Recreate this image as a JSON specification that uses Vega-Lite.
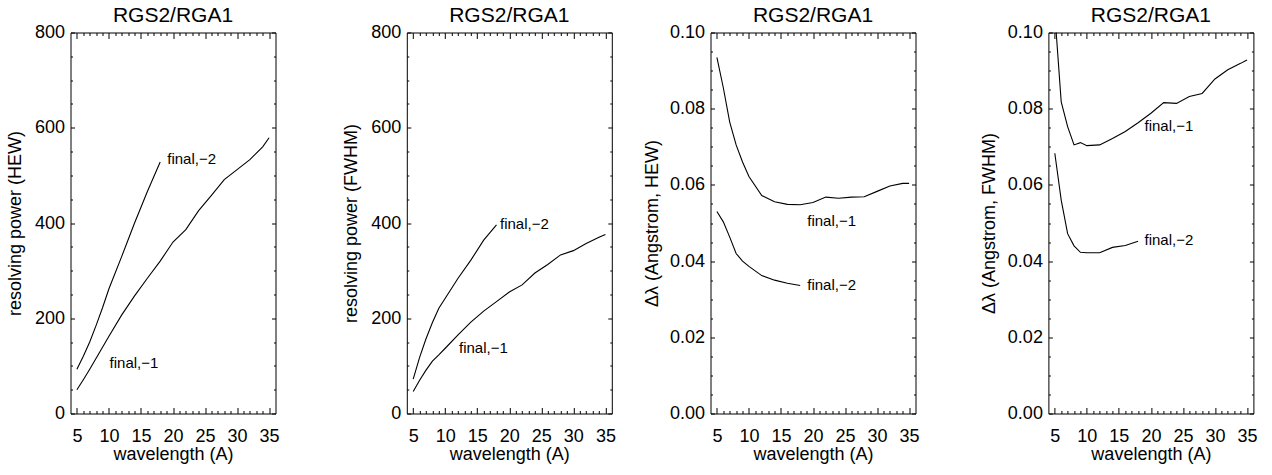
{
 "$schema": "https://vega.github.io/schema/vega-lite/v6.json",
 "background": "white",
 "padding": {"left": 5.5, "top": 3.5, "right": 5, "bottom": 5},
 "autosize": {"type": "pad"},
 "config": {
   "view": {"stroke": "black", "strokeWidth": 1},
   "axis": {"grid": false, "domain": false, "tickColor": "black", "tickWidth": 1, "labelFont": "Liberation Sans", "labelFontSize": 18, "labelColor": "black", "labelOverlap": false, "labelFlush": false, "labelBound": false, "titleFont": "Liberation Sans", "titleFontSize": 18, "titleFontWeight": "normal", "titleColor": "black"},
   "title": {"font": "Liberation Sans", "fontSize": 21, "fontWeight": "normal", "color": "black", "baseline": "alphabetic", "offset": -2, "anchor": "middle"}
 },
 "datasets": {
  "p1": [
   {"wl":5,"v":50,"s":"final,-1"},{"wl":6,"v":71,"s":"final,-1"},{"wl":7,"v":93,"s":"final,-1"},{"wl":8,"v":116,"s":"final,-1"},{"wl":9,"v":139,"s":"final,-1"},{"wl":10,"v":162,"s":"final,-1"},{"wl":12,"v":207,"s":"final,-1"},{"wl":14,"v":247,"s":"final,-1"},{"wl":16,"v":284,"s":"final,-1"},{"wl":18,"v":320,"s":"final,-1"},{"wl":20,"v":360,"s":"final,-1"},{"wl":22,"v":386,"s":"final,-1"},{"wl":24,"v":426,"s":"final,-1"},{"wl":26,"v":458,"s":"final,-1"},{"wl":28,"v":491,"s":"final,-1"},{"wl":30,"v":512,"s":"final,-1"},{"wl":32,"v":533,"s":"final,-1"},{"wl":34,"v":560,"s":"final,-1"},{"wl":35,"v":579,"s":"final,-1"},
   {"wl":5,"v":93,"s":"final,-2"},{"wl":6,"v":120,"s":"final,-2"},{"wl":7,"v":150,"s":"final,-2"},{"wl":8,"v":185,"s":"final,-2"},{"wl":9,"v":222,"s":"final,-2"},{"wl":10,"v":262,"s":"final,-2"},{"wl":12,"v":330,"s":"final,-2"},{"wl":14,"v":400,"s":"final,-2"},{"wl":16,"v":466,"s":"final,-2"},{"wl":18,"v":528,"s":"final,-2"}
  ],
  "p2": [
   {"wl":5,"v":46,"s":"final,-1"},{"wl":6,"v":70,"s":"final,-1"},{"wl":7,"v":91,"s":"final,-1"},{"wl":8,"v":110,"s":"final,-1"},{"wl":9,"v":123,"s":"final,-1"},{"wl":10,"v":137,"s":"final,-1"},{"wl":12,"v":165,"s":"final,-1"},{"wl":14,"v":192,"s":"final,-1"},{"wl":16,"v":215,"s":"final,-1"},{"wl":18,"v":235,"s":"final,-1"},{"wl":20,"v":255,"s":"final,-1"},{"wl":22,"v":270,"s":"final,-1"},{"wl":24,"v":295,"s":"final,-1"},{"wl":26,"v":313,"s":"final,-1"},{"wl":28,"v":333,"s":"final,-1"},{"wl":30,"v":342,"s":"final,-1"},{"wl":32,"v":357,"s":"final,-1"},{"wl":34,"v":370,"s":"final,-1"},{"wl":35,"v":376,"s":"final,-1"},
   {"wl":5,"v":72,"s":"final,-2"},{"wl":6,"v":118,"s":"final,-2"},{"wl":7,"v":157,"s":"final,-2"},{"wl":8,"v":191,"s":"final,-2"},{"wl":9,"v":221,"s":"final,-2"},{"wl":10,"v":242,"s":"final,-2"},{"wl":12,"v":284,"s":"final,-2"},{"wl":14,"v":322,"s":"final,-2"},{"wl":16,"v":364,"s":"final,-2"},{"wl":18,"v":396,"s":"final,-2"}
  ],
  "p3": [
   {"wl":5,"v":0.0935,"s":"final,-1"},{"wl":6,"v":0.0855,"s":"final,-1"},{"wl":7,"v":0.0765,"s":"final,-1"},{"wl":8,"v":0.0705,"s":"final,-1"},{"wl":9,"v":0.066,"s":"final,-1"},{"wl":10,"v":0.0622,"s":"final,-1"},{"wl":12,"v":0.0572,"s":"final,-1"},{"wl":14,"v":0.0556,"s":"final,-1"},{"wl":16,"v":0.0549,"s":"final,-1"},{"wl":18,"v":0.0548,"s":"final,-1"},{"wl":20,"v":0.0554,"s":"final,-1"},{"wl":22,"v":0.0568,"s":"final,-1"},{"wl":24,"v":0.0565,"s":"final,-1"},{"wl":26,"v":0.0568,"s":"final,-1"},{"wl":28,"v":0.0569,"s":"final,-1"},{"wl":30,"v":0.0583,"s":"final,-1"},{"wl":32,"v":0.0597,"s":"final,-1"},{"wl":34,"v":0.0604,"s":"final,-1"},{"wl":35,"v":0.0604,"s":"final,-1"},
   {"wl":5,"v":0.053,"s":"final,-2"},{"wl":6,"v":0.0503,"s":"final,-2"},{"wl":7,"v":0.0463,"s":"final,-2"},{"wl":8,"v":0.042,"s":"final,-2"},{"wl":9,"v":0.04,"s":"final,-2"},{"wl":10,"v":0.0386,"s":"final,-2"},{"wl":12,"v":0.0362,"s":"final,-2"},{"wl":14,"v":0.035,"s":"final,-2"},{"wl":16,"v":0.0342,"s":"final,-2"},{"wl":18,"v":0.0336,"s":"final,-2"}
  ],
  "p4": [
   {"wl":5,"v":0.105,"s":"final,-1"},{"wl":6,"v":0.0818,"s":"final,-1"},{"wl":7,"v":0.0753,"s":"final,-1"},{"wl":8,"v":0.0705,"s":"final,-1"},{"wl":9,"v":0.0711,"s":"final,-1"},{"wl":10,"v":0.0703,"s":"final,-1"},{"wl":12,"v":0.0705,"s":"final,-1"},{"wl":14,"v":0.0722,"s":"final,-1"},{"wl":16,"v":0.074,"s":"final,-1"},{"wl":18,"v":0.0763,"s":"final,-1"},{"wl":20,"v":0.0788,"s":"final,-1"},{"wl":22,"v":0.0816,"s":"final,-1"},{"wl":24,"v":0.0814,"s":"final,-1"},{"wl":26,"v":0.0832,"s":"final,-1"},{"wl":28,"v":0.084,"s":"final,-1"},{"wl":30,"v":0.0878,"s":"final,-1"},{"wl":32,"v":0.0902,"s":"final,-1"},{"wl":34,"v":0.0919,"s":"final,-1"},{"wl":35,"v":0.0928,"s":"final,-1"},
   {"wl":5,"v":0.0683,"s":"final,-2"},{"wl":6,"v":0.056,"s":"final,-2"},{"wl":7,"v":0.0472,"s":"final,-2"},{"wl":8,"v":0.044,"s":"final,-2"},{"wl":9,"v":0.0423,"s":"final,-2"},{"wl":10,"v":0.0422,"s":"final,-2"},{"wl":12,"v":0.0422,"s":"final,-2"},{"wl":14,"v":0.0436,"s":"final,-2"},{"wl":16,"v":0.0441,"s":"final,-2"},{"wl":18,"v":0.0452,"s":"final,-2"}
  ],
  "t1": [{"wl":19.1,"v":534,"t":"final,−2"},{"wl":10.1,"v":107,"t":"final,−1"}],
  "t2": [{"wl":18.55,"v":398,"t":"final,−2"},{"wl":12.15,"v":137,"t":"final,−1"}],
  "t3": [{"wl":19.1,"v":0.0505,"t":"final,−1"},{"wl":19.1,"v":0.0336,"t":"final,−2"}],
  "t4": [{"wl":19.0,"v":0.0755,"t":"final,−1"},{"wl":19.0,"v":0.0456,"t":"final,−2"}]
 },
 "spacing": 26,
 "hconcat": [
  {"spacing": 61.3, "hconcat": [
   {"width": 205, "height": 381, "title": "RGS2/RGA1",
    "layer": [
     {"data": {"name": "p1"}, "mark": {"type": "line", "color": "black", "strokeWidth": 1.1, "clip": true},
      "encoding": {
       "x": {"field": "wl", "type": "quantitative", "scale": {"domain": [4, 36], "nice": false, "zero": false},
             "axis": {"orient": "bottom", "values": [5,6,7,8,9,10,11,12,13,14,15,16,17,18,19,20,21,22,23,24,25,26,27,28,29,30,31,32,33,34,35], "tickSize": {"condition": {"test": "datum.value % 5 === 0", "value": -6}, "value": -3}, "labelExpr": "datum.value % 5 === 0 ? datum.label : ''", "labelPadding": 20.3, "title": "wavelength (A)", "titleBaseline": "alphabetic", "titleX": 102.5, "titleY": 46}},
       "y": {"field": "v", "type": "quantitative", "scale": {"domain": [0, 800], "nice": false, "zero": false},
             "axis": {"orient": "left", "values": [0,50,100,150,200,250,300,350,400,450,500,550,600,650,700,750,800], "tickSize": {"condition": {"test": "datum.value % 200 === 0", "value": -4}, "value": -2}, "labelExpr": "datum.value % 200 === 0 ? datum.label : ''", "labelPadding": 10, "title": "resolving power (HEW)", "titleBaseline": "alphabetic", "titleAngle": -90, "titleAlign": "center", "titleX": -50, "titleY": 190.5}},
       "detail": {"field": "s", "type": "nominal"}
      }},
     {"data": {"name": "t1"}, "mark": {"type": "text", "align": "left", "baseline": "middle", "font": "Liberation Sans", "fontSize": 15, "color": "black"},
      "encoding": {
       "x": {"field": "wl", "type": "quantitative", "scale": {"domain": [4, 36], "nice": false, "zero": false},
             "axis": {"orient": "top", "values": [5,6,7,8,9,10,11,12,13,14,15,16,17,18,19,20,21,22,23,24,25,26,27,28,29,30,31,32,33,34,35], "tickSize": {"condition": {"test": "datum.value % 5 === 0", "value": -6}, "value": -3}, "labels": false, "title": null}},
       "y": {"field": "v", "type": "quantitative", "scale": {"domain": [0, 800], "nice": false, "zero": false},
             "axis": {"orient": "right", "values": [0,50,100,150,200,250,300,350,400,450,500,550,600,650,700,750,800], "tickSize": {"condition": {"test": "datum.value % 200 === 0", "value": -4}, "value": -2}, "labels": false, "title": null}},
       "text": {"field": "t", "type": "nominal"}
      }}
    ],
    "resolve": {"scale": {"x": "independent", "y": "independent"}, "axis": {"x": "independent", "y": "independent"}}
   },
   {"width": 205, "height": 381, "title": "RGS2/RGA1",
    "layer": [
     {"data": {"name": "p2"}, "mark": {"type": "line", "color": "black", "strokeWidth": 1.1, "clip": true},
      "encoding": {
       "x": {"field": "wl", "type": "quantitative", "scale": {"domain": [4, 36], "nice": false, "zero": false},
             "axis": {"orient": "bottom", "values": [5,6,7,8,9,10,11,12,13,14,15,16,17,18,19,20,21,22,23,24,25,26,27,28,29,30,31,32,33,34,35], "tickSize": {"condition": {"test": "datum.value % 5 === 0", "value": -6}, "value": -3}, "labelExpr": "datum.value % 5 === 0 ? datum.label : ''", "labelPadding": 20.3, "title": "wavelength (A)", "titleBaseline": "alphabetic", "titleX": 102.5, "titleY": 46}},
       "y": {"field": "v", "type": "quantitative", "scale": {"domain": [0, 800], "nice": false, "zero": false},
             "axis": {"orient": "left", "values": [0,50,100,150,200,250,300,350,400,450,500,550,600,650,700,750,800], "tickSize": {"condition": {"test": "datum.value % 200 === 0", "value": -4}, "value": -2}, "labelExpr": "datum.value % 200 === 0 ? datum.label : ''", "labelPadding": 10, "title": "resolving power (FWHM)", "titleBaseline": "alphabetic", "titleAngle": -90, "titleAlign": "center", "titleX": -50.5, "titleY": 190.5}},
       "detail": {"field": "s", "type": "nominal"}
      }},
     {"data": {"name": "t2"}, "mark": {"type": "text", "align": "left", "baseline": "middle", "font": "Liberation Sans", "fontSize": 15, "color": "black"},
      "encoding": {
       "x": {"field": "wl", "type": "quantitative", "scale": {"domain": [4, 36], "nice": false, "zero": false},
             "axis": {"orient": "top", "values": [5,6,7,8,9,10,11,12,13,14,15,16,17,18,19,20,21,22,23,24,25,26,27,28,29,30,31,32,33,34,35], "tickSize": {"condition": {"test": "datum.value % 5 === 0", "value": -6}, "value": -3}, "labels": false, "title": null}},
       "y": {"field": "v", "type": "quantitative", "scale": {"domain": [0, 800], "nice": false, "zero": false},
             "axis": {"orient": "right", "values": [0,50,100,150,200,250,300,350,400,450,500,550,600,650,700,750,800], "tickSize": {"condition": {"test": "datum.value % 200 === 0", "value": -4}, "value": -2}, "labels": false, "title": null}},
       "text": {"field": "t", "type": "nominal"}
      }}
    ],
    "resolve": {"scale": {"x": "independent", "y": "independent"}, "axis": {"x": "independent", "y": "independent"}}
   }
  ]},
  {"spacing": 59.9, "hconcat": [
   {"width": 205, "height": 381, "title": "RGS2/RGA1",
    "layer": [
     {"data": {"name": "p3"}, "mark": {"type": "line", "color": "black", "strokeWidth": 1.1, "clip": true},
      "encoding": {
       "x": {"field": "wl", "type": "quantitative", "scale": {"domain": [4, 36], "nice": false, "zero": false},
             "axis": {"orient": "bottom", "values": [5,6,7,8,9,10,11,12,13,14,15,16,17,18,19,20,21,22,23,24,25,26,27,28,29,30,31,32,33,34,35], "tickSize": {"condition": {"test": "datum.value % 5 === 0", "value": -6}, "value": -3}, "labelExpr": "datum.value % 5 === 0 ? datum.label : ''", "labelPadding": 20.3, "title": "wavelength (A)", "titleBaseline": "alphabetic", "titleX": 102.5, "titleY": 46}},
       "y": {"field": "v", "type": "quantitative", "scale": {"domain": [0, 0.1], "nice": false, "zero": false},
             "axis": {"orient": "left", "values": [0,0.005,0.01,0.015,0.02,0.025,0.03,0.035,0.04,0.045,0.05,0.055,0.06,0.065,0.07,0.075,0.08,0.085,0.09,0.095,0.1], "format": ".2f", "tickSize": {"condition": {"test": "round(datum.value*1000) % 20 === 0", "value": -4}, "value": -2}, "labelExpr": "round(datum.value*1000) % 20 === 0 ? datum.label : ''", "labelPadding": 10, "title": "Δλ (Angstrom, HEW)", "titleBaseline": "alphabetic", "titleAngle": -90, "titleAlign": "center", "titleX": -53, "titleY": 190.5}},
       "detail": {"field": "s", "type": "nominal"}
      }},
     {"data": {"name": "t3"}, "mark": {"type": "text", "align": "left", "baseline": "middle", "font": "Liberation Sans", "fontSize": 15, "color": "black"},
      "encoding": {
       "x": {"field": "wl", "type": "quantitative", "scale": {"domain": [4, 36], "nice": false, "zero": false},
             "axis": {"orient": "top", "values": [5,6,7,8,9,10,11,12,13,14,15,16,17,18,19,20,21,22,23,24,25,26,27,28,29,30,31,32,33,34,35], "tickSize": {"condition": {"test": "datum.value % 5 === 0", "value": -6}, "value": -3}, "labels": false, "title": null}},
       "y": {"field": "v", "type": "quantitative", "scale": {"domain": [0, 0.1], "nice": false, "zero": false},
             "axis": {"orient": "right", "values": [0,0.005,0.01,0.015,0.02,0.025,0.03,0.035,0.04,0.045,0.05,0.055,0.06,0.065,0.07,0.075,0.08,0.085,0.09,0.095,0.1], "tickSize": {"condition": {"test": "round(datum.value*1000) % 20 === 0", "value": -4}, "value": -2}, "labels": false, "title": null}},
       "text": {"field": "t", "type": "nominal"}
      }}
    ],
    "resolve": {"scale": {"x": "independent", "y": "independent"}, "axis": {"x": "independent", "y": "independent"}}
   },
   {"width": 205, "height": 381, "title": "RGS2/RGA1",
    "layer": [
     {"data": {"name": "p4"}, "mark": {"type": "line", "color": "black", "strokeWidth": 1.1, "clip": true},
      "encoding": {
       "x": {"field": "wl", "type": "quantitative", "scale": {"domain": [4, 36], "nice": false, "zero": false},
             "axis": {"orient": "bottom", "values": [5,6,7,8,9,10,11,12,13,14,15,16,17,18,19,20,21,22,23,24,25,26,27,28,29,30,31,32,33,34,35], "tickSize": {"condition": {"test": "datum.value % 5 === 0", "value": -6}, "value": -3}, "labelExpr": "datum.value % 5 === 0 ? datum.label : ''", "labelPadding": 20.3, "title": "wavelength (A)", "titleBaseline": "alphabetic", "titleX": 102.5, "titleY": 46}},
       "y": {"field": "v", "type": "quantitative", "scale": {"domain": [0, 0.1], "nice": false, "zero": false},
             "axis": {"orient": "left", "values": [0,0.005,0.01,0.015,0.02,0.025,0.03,0.035,0.04,0.045,0.05,0.055,0.06,0.065,0.07,0.075,0.08,0.085,0.09,0.095,0.1], "format": ".2f", "tickSize": {"condition": {"test": "round(datum.value*1000) % 20 === 0", "value": -4}, "value": -2}, "labelExpr": "round(datum.value*1000) % 20 === 0 ? datum.label : ''", "labelPadding": 10, "title": "Δλ (Angstrom, FWHM)", "titleBaseline": "alphabetic", "titleAngle": -90, "titleAlign": "center", "titleX": -53.5, "titleY": 190.5}},
       "detail": {"field": "s", "type": "nominal"}
      }},
     {"data": {"name": "t4"}, "mark": {"type": "text", "align": "left", "baseline": "middle", "font": "Liberation Sans", "fontSize": 15, "color": "black"},
      "encoding": {
       "x": {"field": "wl", "type": "quantitative", "scale": {"domain": [4, 36], "nice": false, "zero": false},
             "axis": {"orient": "top", "values": [5,6,7,8,9,10,11,12,13,14,15,16,17,18,19,20,21,22,23,24,25,26,27,28,29,30,31,32,33,34,35], "tickSize": {"condition": {"test": "datum.value % 5 === 0", "value": -6}, "value": -3}, "labels": false, "title": null}},
       "y": {"field": "v", "type": "quantitative", "scale": {"domain": [0, 0.1], "nice": false, "zero": false},
             "axis": {"orient": "right", "values": [0,0.005,0.01,0.015,0.02,0.025,0.03,0.035,0.04,0.045,0.05,0.055,0.06,0.065,0.07,0.075,0.08,0.085,0.09,0.095,0.1], "tickSize": {"condition": {"test": "round(datum.value*1000) % 20 === 0", "value": -4}, "value": -2}, "labels": false, "title": null}},
       "text": {"field": "t", "type": "nominal"}
      }}
    ],
    "resolve": {"scale": {"x": "independent", "y": "independent"}, "axis": {"x": "independent", "y": "independent"}}
   }
  ]}
 ]
}
